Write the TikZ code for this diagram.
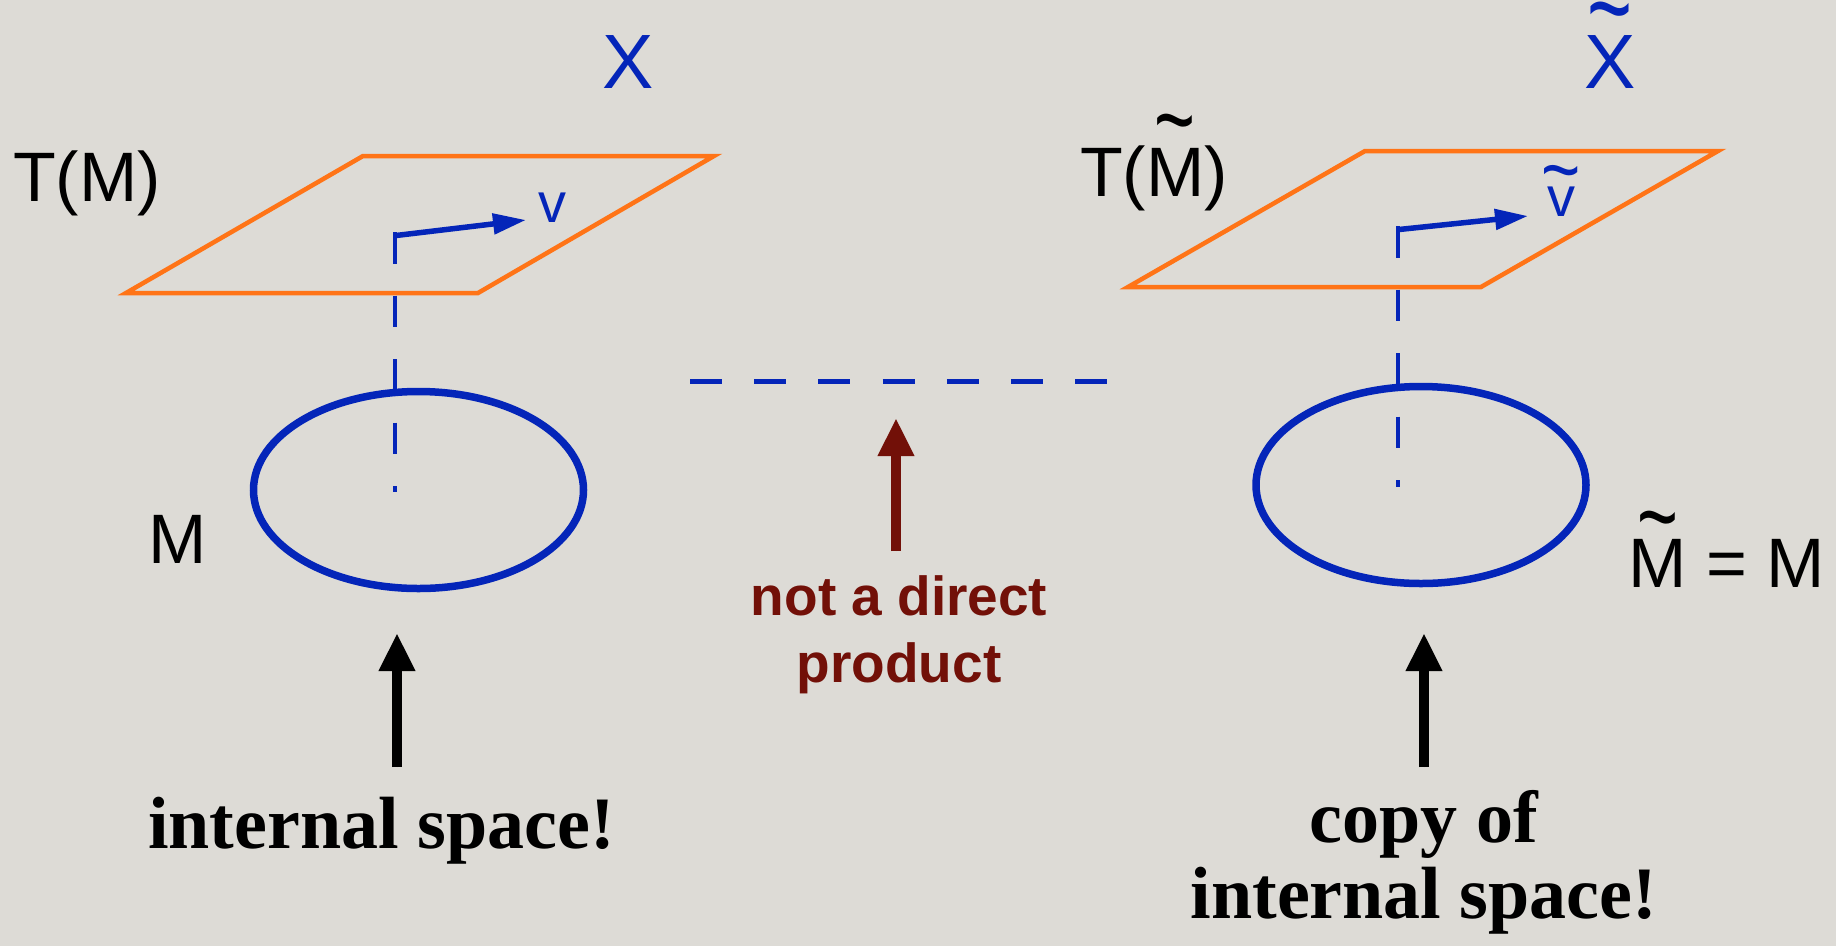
\documentclass[tikz,border=0pt]{standalone}
\usepackage{fontspec}
\usepackage{graphicx}
\setmainfont{Liberation Sans}
\newfontfamily\serifface{Liberation Serif}
\usetikzlibrary{arrows.meta,shapes.geometric}
\definecolor{bgc}{RGB}{221,219,214}
\definecolor{eblue}{RGB}{4,37,185}
\definecolor{eorange}{RGB}{255,116,23}
\definecolor{ered}{RGB}{114,16,8}
\newsavebox\tldbox
% \tld{raise}{xscale}{letter}
\newcommand\tld[3]{\leavevmode\setbox\tldbox\hbox{#3}%
  \rlap{\hbox to\wd\tldbox{\hss\raisebox{#1}[0pt][0pt]{\scalebox{#2}[1.5]{\textasciitilde}}\hss}}\box\tldbox}
\begin{document}
\begin{tikzpicture}[x=1pt,y=-1pt,
  lbl/.style={inner sep=0pt, anchor=base, text=black},
  bluelbl/.style={lbl, text=eblue},
  plane/.style={draw=eorange, line width=4.5pt, line join=miter},
  drop/.style={draw=eblue, line width=4pt, dash pattern=on 31.5pt off 32pt},
  vec/.style={draw=eblue, line width=5.5pt, -{Triangle[length=33pt,width=20pt]}},
  manifold/.style={ellipse, draw=eblue, line width=7.5pt, minimum width=330pt, minimum height=197pt, inner sep=0pt},
  pointer/.style={line width=10pt, -{Triangle[length=38pt,width=34pt]}},
  hdash/.style={draw=eblue, line width=5pt, dash pattern=on 32pt off 32.2pt},
  ]
\fill[bgc] (0,0) rectangle (1836,946);
\useasboundingbox (0,0) rectangle (1836,946);

% ---------- left: X ----------
\coordinate (pl1) at (363,156);
\coordinate (pl2) at (714,156);
\coordinate (pl3) at (478,293);
\coordinate (pl4) at (126,293);
\draw[plane] (pl1) -- (pl2) -- (pl3) -- (pl4) -- cycle;

\coordinate (dl0) at (395,232);
\coordinate (dl1) at (395,492);
\draw[drop] (dl0) -- (dl1);

\node[manifold] (Ml) at (418.5,490) {};

\coordinate (vl0) at (396,235.5);
\coordinate (vl1) at (526,220);
\draw[vec] (vl0) -- (vl1);

\node[lbl, font=\fontsize{70}{80}\selectfont] (TM) at (87,201) {T(M)};
\node[bluelbl, font=\fontsize{77}{85}\selectfont] (Xl) at (628,88) {X};
\node[bluelbl, font=\fontsize{56}{64}\selectfont] (vl) at (552,222) {v};
\node[lbl, font=\fontsize{70}{80}\selectfont] (Mlab) at (177.5,563) {M};

\coordinate (al0) at (397,767);
\coordinate (al1) at (397,633);
\draw[pointer, draw=black, fill=black] (al0) -- (al1);
\node[lbl, font=\serifface\bfseries\fontsize{74}{76}\selectfont] (isl) at (381.5,848) {internal space!};

% ---------- middle ----------
\coordinate (h0) at (690,381);
\coordinate (h1) at (1107,381);
\draw[hdash] (h0) -- (h1);
\coordinate (am0) at (896,551);
\coordinate (am1) at (896,418);
\draw[pointer, draw=ered, fill=ered] (am0) -- (am1);
\node[lbl, text=ered, align=center, font=\bfseries\fontsize{55}{67}\selectfont] (np) at (899,682) {not a direct\\product};

% ---------- right: X tilde ----------
\coordinate (pr1) at (1365,151);
\coordinate (pr2) at (1718,151);
\coordinate (pr3) at (1481,287);
\coordinate (pr4) at (1128,287);
\draw[plane] (pr1) -- (pr2) -- (pr3) -- (pr4) -- cycle;

\coordinate (dr0) at (1398,226);
\coordinate (dr1) at (1398,487);
\draw[drop] (dr0) -- (dr1);

\node[manifold] (Mr) at (1421,485) {};

\coordinate (vr0) at (1399,229.5);
\coordinate (vr1) at (1528,216);
\draw[vec] (vr0) -- (vr1);

\node[lbl, font=\fontsize{70}{80}\selectfont] (TMt) at (1154,196) {T(\tld{0.58em}{1}{M})};
\node[bluelbl, font=\fontsize{77}{85}\selectfont] (Xr) at (1610,88) {\tld{0.52em}{1}{X}};
\node[bluelbl, font=\fontsize{56}{64}\selectfont] (vr) at (1561,216) {\tld{0.31em}{1.2}{v}};
\node[lbl, font=\fontsize{70}{80}\selectfont] (Meq) at (1726.5,587) {\tld{0.5em}{1}{M} = M};

\coordinate (ar0) at (1424,767);
\coordinate (ar1) at (1424,633);
\draw[pointer, draw=black, fill=black] (ar0) -- (ar1);
\node[lbl, align=center, font=\serifface\bfseries\fontsize{74}{76}\selectfont] (isr) at (1424,918) {copy of\\internal space!};
\end{tikzpicture}
\end{document}
